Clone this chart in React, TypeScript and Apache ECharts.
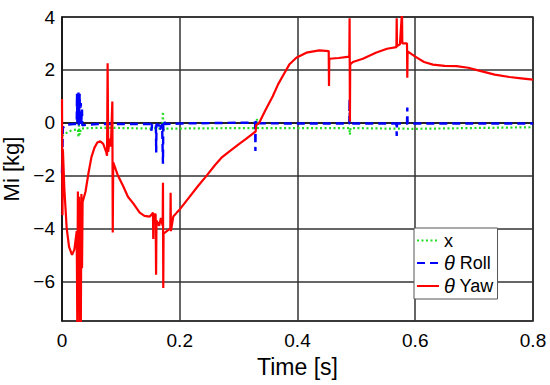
import React, { useEffect, useRef } from "react";
import * as echarts from "echarts";

// Time [s] ticks
const xTicks = [0, 0.2, 0.4, 0.6, 0.8];
const yRange = [-7.5, 4];

// x (green dotted)
const seriesX: [number, number][] = [
  [0, -0.5], [0.005, -0.42], [0.01, -0.35], [0.015, -0.3], [0.02, -0.27], [0.027, -0.25],
  [0.028, -0.55], [0.029, -0.1], [0.03, -0.45], [0.032, -0.22], [0.05, -0.2], [0.08, -0.19],
  [0.1, -0.2], [0.15, -0.22], [0.16, -0.2], [0.17, -0.24], [0.1715, 0.42], [0.172, -0.3],
  [0.173, -0.22], [0.2, -0.22], [0.25, -0.21], [0.33, -0.2], [0.331, 0.15], [0.332, -0.2],
  [0.4, -0.2], [0.488, -0.2], [0.489, -0.45], [0.49, -0.2], [0.55, -0.22], [0.6, -0.23],
  [0.7, -0.2], [0.8, -0.17],
];

// θ Roll (blue dashed)
const seriesRoll: [number, number][] = [
  [0, -1.9], [0.0015, -0.2], [0.005, -0.08], [0.02, -0.05], [0.025, -0.05], [0.0255, 1.1],
  [0.026, 0.0], [0.027, 0.8], [0.0275, 0.05], [0.028, 1.15], [0.0285, -0.1], [0.03, 1.1],
  [0.0305, 0.0], [0.032, 0.75], [0.0325, -0.05], [0.034, 0.5], [0.0345, -0.1], [0.04, -0.08],
  [0.06, -0.05], [0.1, -0.05], [0.15, -0.05], [0.152, -0.3], [0.153, -0.05], [0.1595, -0.05],
  [0.16, -1.13], [0.1605, -0.05], [0.165, -0.1], [0.166, -0.3], [0.17, -0.05], [0.1715, -1.55],
  [0.172, -0.05], [0.173, 0.1], [0.175, -0.05], [0.2, -0.03], [0.3, 0], [0.328, 0],
  [0.3285, -1.07], [0.329, 0.0], [0.33, 0.1], [0.331, -0.02], [0.4, -0.03], [0.488, -0.03],
  [0.4885, 0.9], [0.489, -0.03], [0.568, -0.03], [0.5685, -0.5], [0.569, -0.03], [0.586, -0.03],
  [0.5865, 0.58], [0.587, -0.03], [0.8, -0.03],
];

// θ Yaw (red solid)
const seriesYaw: [number, number][] = [
  [0, 0.9], [0.0008, -3.5], [0.0015, -1.0], [0.004, -2.5], [0.008, -4.0], [0.012, -4.7],
  [0.017, -5.0], [0.021, -4.8], [0.025, -4.1], [0.026, -7.7], [0.027, -2.6], [0.028, -6.5],
  [0.029, -2.8], [0.03, -7.8], [0.031, -3.0], [0.032, -7.6], [0.033, -2.7], [0.034, -5.5],
  [0.035, -3.0], [0.04, -2.6], [0.045, -1.9], [0.05, -1.3], [0.055, -0.95], [0.06, -0.75],
  [0.065, -0.7], [0.07, -0.8], [0.075, -1.1], [0.0765, -1.25], [0.0775, 2.25], [0.0785, -1.1],
  [0.081, -0.6], [0.083, -0.9], [0.0855, 0.8], [0.0862, -4.15], [0.087, -1.5], [0.095, -2.0],
  [0.104, -2.4], [0.112, -2.8], [0.121, -3.05], [0.132, -3.4], [0.14, -3.52], [0.149, -3.55],
  [0.153, -3.45], [0.1545, -3.4], [0.155, -4.4], [0.1555, -3.5], [0.159, -3.45], [0.1598, -5.75],
  [0.1605, -3.7], [0.165, -3.9], [0.168, -3.6], [0.171, -3.9], [0.1715, -2.27], [0.172, -6.25],
  [0.1725, -4.2], [0.178, -4.1], [0.184, -4.0], [0.1845, -2.65], [0.185, -4.1], [0.189, -3.55],
  [0.195, -3.4], [0.2, -3.28], [0.215, -2.85], [0.23, -2.42], [0.245, -2.02], [0.26, -1.6],
  [0.272, -1.3], [0.285, -1.07], [0.3, -0.82], [0.312, -0.62], [0.322, -0.45], [0.329, -0.33],
  [0.3295, -0.1], [0.335, 0.0], [0.345, 0.45], [0.358, 1.0], [0.367, 1.45], [0.375, 1.77],
  [0.386, 2.2], [0.398, 2.46], [0.415, 2.65], [0.437, 2.74], [0.453, 2.71], [0.4535, 1.39],
  [0.454, 2.42], [0.47, 2.45], [0.488, 2.5], [0.4885, 3.95], [0.489, 0.05], [0.4895, 2.2],
  [0.494, 2.3], [0.511, 2.42], [0.533, 2.65], [0.552, 2.8], [0.568, 2.86], [0.5685, 3.95],
  [0.569, 2.9], [0.574, 2.97], [0.5775, 4.2], [0.578, 3.0], [0.586, 3.0], [0.5865, 1.7],
  [0.587, 2.7], [0.6, 2.5], [0.615, 2.3], [0.63, 2.2], [0.65, 2.15], [0.67, 2.14], [0.69, 2.08],
  [0.71, 1.96], [0.735, 1.82], [0.76, 1.73], [0.78, 1.68], [0.8, 1.63],
];

const names = ["x", "θ Roll", "θ Yaw"];

export default function App() {
  const ref = useRef<HTMLDivElement>(null);
  useEffect(() => {
    if (!ref.current) return;
    const chart = echarts.init(ref.current, undefined, { renderer: "svg" });
    const font = "'Liberation Sans', Arial, sans-serif";
    chart.setOption({
      animation: false,
      textStyle: { fontFamily: font },
      grid: {
        left: 62, top: 17, right: 17, bottom: 64,
        containLabel: false,
        outerBoundsMode: "none",
        show: true, borderColor: "#111", borderWidth: 1.5, backgroundColor: "#fff",
      },
      legend: {
        data: names,
        orient: "vertical",
        left: 414,
        top: 228,
        backgroundColor: "#fff",
        borderColor: "#555",
        borderWidth: 1,
        borderRadius: 0,
        padding: [3, 4, 3, 2],
        itemGap: 3,
        itemWidth: 22,
        itemHeight: 14,
        itemStyle: { opacity: 0 },
        formatter: (n: string) => n.replace("θ", "{i|θ}"),
        textStyle: {
          fontFamily: font, fontSize: 18, color: "#000", lineHeight: 19,
          rich: { i: { fontStyle: "italic", fontSize: 20, fontFamily: font, color: "#000" } },
        },
      },
      xAxis: {
        type: "value",
        min: xTicks[0],
        max: xTicks[xTicks.length - 1],
        interval: 0.2,
        name: "Time [s]",
        nameLocation: "middle",
        nameGap: 34,
        nameTextStyle: { fontSize: 23, color: "#000", fontFamily: font },
        axisLine: { show: true, lineStyle: { color: "#111", width: 1.5 } },
        axisTick: { show: false },
        axisLabel: { fontSize: 19, color: "#000", margin: 10, fontFamily: font },
        splitLine: { show: true, lineStyle: { color: "#333", width: 1.5 } },
      },
      yAxis: {
        type: "value",
        min: yRange[0],
        max: yRange[1],
        name: "Mi [kg]",
        nameLocation: "middle",
        nameGap: 30,
        nameTextStyle: { fontSize: 22, color: "#000", fontFamily: font },
        axisLine: { show: true, lineStyle: { color: "#111", width: 1.5 } },
        axisTick: { show: false },
        axisLabel: {
          fontSize: 19, color: "#000", margin: 7, fontFamily: font, showMinLabel: false,
          formatter: (v: number) => (v < 0 ? "\u2212" + Math.abs(v) : String(v)),
        },
        splitLine: { show: true, lineStyle: { color: "#333", width: 1.5 } },
      },
      series: [
        {
          name: names[0], type: "line", data: seriesX, showSymbol: false, symbol: "none",
          lineStyle: { color: "#22dd22", width: 2.2, type: [2, 2.5] },
          itemStyle: { color: "#22dd22" },
        },
        {
          name: names[1], type: "line", data: seriesRoll, showSymbol: false, symbol: "none",
          lineStyle: { color: "#0000ff", width: 2.4, type: [8, 5] },
          itemStyle: { color: "#0000ff" },
        },
        {
          name: names[2], type: "line", data: seriesYaw, showSymbol: false, symbol: "none",
          lineStyle: { color: "#ff0000", width: 2.2 },
          itemStyle: { color: "#ff0000" },
        },
      ],
    });
    return () => chart.dispose();
  }, []);
  return (
    <div
      ref={ref}
      style={{ position: "fixed", left: 0, top: 0, width: 550, height: 385, background: "#fff" }}
    />
  );
}
